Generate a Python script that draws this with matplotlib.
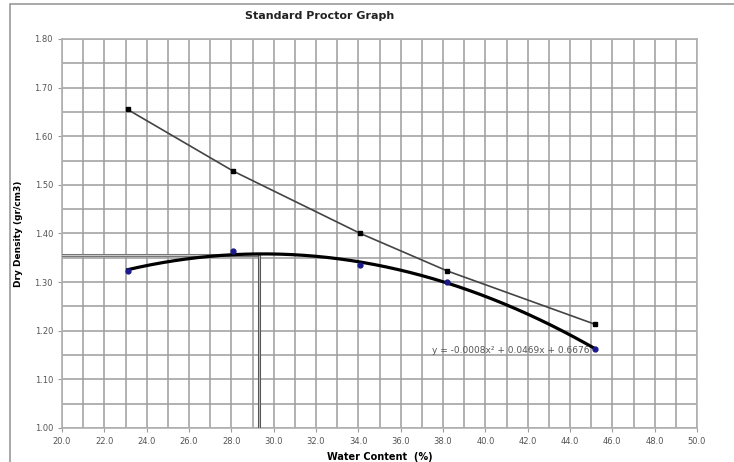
import matplotlib
matplotlib.use("Agg")
import matplotlib.pyplot as plt
import numpy as np
from matplotlib.patches import Rectangle

# test points
water = [23.1, 28.1, 34.1, 38.2, 45.2]
dry_density = [1.323, 1.363, 1.335, 1.300, 1.163]
# zero air voids line
zav_density = [1.655, 1.528, 1.400, 1.323, 1.213]
# optimum
opt_water = 29.3
max_density = 1.356
eq_text = "y = -0.0008x\u00b2 + 0.0469x + 0.6676"

fig = plt.figure(figsize=(7.34, 4.62), dpi=100)
ax = fig.add_axes([0.0845, 0.0736, 0.8651, 0.8420])

# outer chart frame
fig.patches.append(Rectangle((10 / 734, -0.1), 1.2, 0.1 + 1 - 4 / 462,
                             transform=fig.transFigure, fill=False,
                             edgecolor="#9a9a9a", linewidth=1.2))

ax.set_xlim(20, 50)
ax.set_ylim(1.0, 1.8)
ax.set_xticks(np.arange(20, 50.1, 2))
ax.set_xticks(np.arange(20, 50.1, 1), minor=True)
ax.set_yticks(np.arange(1.0, 1.801, 0.1))
ax.set_yticks(np.arange(1.0, 1.801, 0.05), minor=True)
ax.set_xticklabels([f"{v:.1f}" for v in np.arange(20, 50.1, 2)])
ax.set_yticklabels([f"{v:.2f}" for v in np.arange(1.0, 1.801, 0.1)])
ax.grid(which="both", color="#9c9c9c", linewidth=1.1)
ax.tick_params(which="both", labelsize=6, labelcolor="#555555", color="#9c9c9c",
               length=3)
ax.tick_params(which="minor", length=0)
for s in ax.spines.values():
    s.set_color("#b0b0b0")
    s.set_linewidth(1.2)

# optimum markers
ax.plot([20, opt_water], [max_density, max_density], color="#777777", lw=2.2, zorder=3)
ax.plot([20, opt_water], [max_density, max_density], color="#d8d8d8", lw=0.6, zorder=3)
ax.plot([opt_water, opt_water], [1.0, max_density], color="#555555", lw=2.2, zorder=3)
ax.plot([opt_water, opt_water], [1.0, max_density], color="#cccccc", lw=0.6, zorder=3)

# zav line
ax.plot(water, zav_density, color="#444444", lw=1.2, marker="s", markersize=3.5,
        markerfacecolor="black", markeredgecolor="black", zorder=4)

# quadratic trendline through test points
coef = np.polyfit(water, dry_density, 2)
xs = np.linspace(min(water), max(water), 200)
ax.plot(xs, np.polyval(coef, xs), color="black", lw=2.3, zorder=4)
ax.plot(water, dry_density, linestyle="none", marker="o", markersize=3.5,
        color="#1a1a8c", zorder=5)

ax.text(44.9, 1.16, eq_text, fontsize=6.5, color="#555555", ha="right", va="center",
        zorder=6)

ax.set_xlabel("Water Content  (%)", fontsize=7, fontweight="bold", labelpad=4)
ax.set_ylabel("Dry Density (gr/cm3)", fontsize=6.5, fontweight="bold", labelpad=8)
fig.text(245 / 734, 1 - 16 / 462, "Standard Proctor Graph", fontsize=8,
         fontweight="bold", ha="left", va="center", color="#222222")

fig.savefig("out.png", dpi=100)
